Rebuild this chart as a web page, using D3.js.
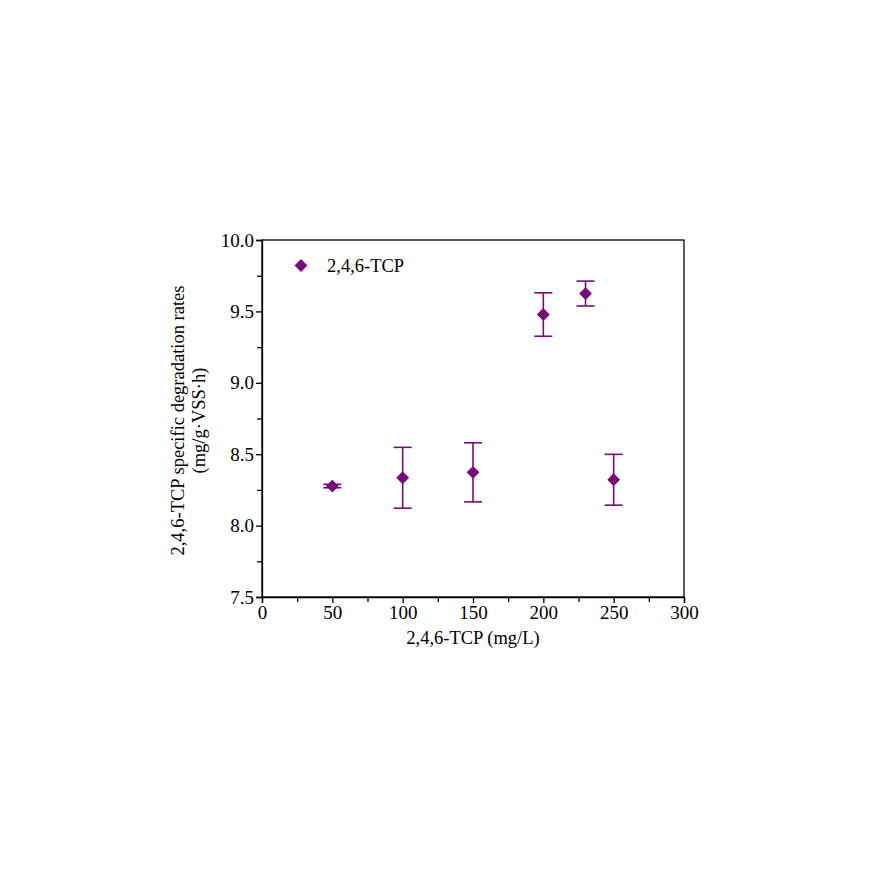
<!DOCTYPE html>
<meta charset="utf-8">

<head>
  <title>2,4,6-TCP specific degradation rates</title>
  <style>
    body {
      margin: 0;
      background: #fff;
    }
  </style>
</head>

<body>
  <svg id="viz" width="870" height="870" font-family="Liberation Serif, serif"></svg>

  <script src="https://d3js.org/d3.v7.min.js"></script>

  <script>
    // values
    var concentrations = [50, 100, 150, 200, 230, 250];
    var rates = [8.277, 8.335, 8.373, 9.478, 9.625, 8.321];
    var errors = [0.012, 0.213, 0.207, 0.152, 0.087, 0.178];
    var xTicks = [0, 50, 100, 150, 200, 250, 300];
    var yTicks = [7.5, 8.0, 8.5, 9.0, 9.5, 10.0];
    var seriesName = "2,4,6-TCP";

    var purple = "#7a0a7c";
    var serif = "Liberation Serif, serif";
    var margin = { left: 262, top: 240, right: 186, bottom: 273 };
    var width = 870 - margin.left - margin.right;
    var height = 870 - margin.top - margin.bottom;

    var svg = d3.select("#viz");
    var g = svg.append("g")
      .attr("transform", "translate(" + margin.left + "," + margin.top + ")");

    var x = d3.scaleLinear().domain([0, 300]).range([0, width]);
    var y = d3.scaleLinear().domain([7.5, 10]).range([height, 0]);

    // minor ticks
    var xMinor = d3.range(25, 300, 50);
    var yMinor = d3.range(7.75, 10, 0.5);

    g.append("g")
      .attr("transform", "translate(0," + height + ")")
      .call(d3.axisBottom(x).tickValues(xMinor).tickSize(5).tickFormat(""))
      .call(a => a.select(".domain").remove());
    g.append("g")
      .call(d3.axisLeft(y).tickValues(yMinor).tickSize(5).tickFormat(""))
      .call(a => a.select(".domain").remove());

    g.append("g")
      .attr("transform", "translate(0," + height + ")")
      .call(d3.axisBottom(x).tickValues(xTicks).tickSize(6).tickPadding(3).tickFormat(d3.format("d")))
      .attr("font-family", serif)
      .attr("font-size", 19);
    g.append("g")
      .call(d3.axisLeft(y).tickValues(yTicks).tickSize(6).tickPadding(2).tickFormat(d3.format(".1f")))
      .attr("font-family", serif)
      .attr("font-size", 19);

    g.selectAll(".domain, .tick line").attr("stroke", "#000").attr("stroke-width", 1.3);

    // frame top and right
    g.append("rect")
      .attr("width", width).attr("height", height)
      .attr("fill", "none").attr("stroke", "#000").attr("stroke-width", 1.3);

    // error bars
    var data = concentrations.map((c, i) => ({ x: c, y: rates[i], e: errors[i] }));
    var cap = 9;
    var bars = g.append("g").attr("stroke", purple).attr("stroke-width", 1.6);
    data.forEach(function (d) {
      var px = x(d.x);
      bars.append("line").attr("x1", px).attr("x2", px)
        .attr("y1", y(d.y - d.e)).attr("y2", y(d.y + d.e));
      bars.append("line").attr("x1", px - cap).attr("x2", px + cap)
        .attr("y1", y(d.y + d.e)).attr("y2", y(d.y + d.e));
      bars.append("line").attr("x1", px - cap).attr("x2", px + cap)
        .attr("y1", y(d.y - d.e)).attr("y2", y(d.y - d.e));
    });

    var diamond = d3.symbol().type(d3.symbolDiamond2).size(105);
    g.selectAll("path.pt")
      .data(data)
      .enter()
      .append("path")
      .attr("class", "pt")
      .attr("d", diamond)
      .attr("fill", purple)
      .attr("transform", d => "translate(" + x(d.x) + "," + y(d.y) + ")");

    // legend
    g.append("path")
      .attr("d", diamond)
      .attr("fill", purple)
      .attr("transform", "translate(39,25.5)");
    g.append("text")
      .attr("x", 65).attr("y", 32)
      .attr("font-size", 18.5)
      .text(seriesName);

    // axis titles
    g.append("text")
      .attr("x", width / 2).attr("y", height + 47)
      .attr("text-anchor", "middle")
      .attr("font-size", 18.5)
      .text("2,4,6-TCP (mg/L)");

    var yt = g.append("text")
      .attr("transform", "translate(-78," + (height / 2 + 2) + ") rotate(-90)")
      .attr("text-anchor", "middle")
      .attr("font-size", 18.5);
    yt.append("tspan").attr("x", 0).attr("dy", 0)
      .text("2,4,6-TCP specific degradation rates");
    yt.append("tspan").attr("x", 0).attr("dy", 21)
      .text("(mg/g\u00B7VSS\u00B7h)");
  </script>
</body>

</html>
